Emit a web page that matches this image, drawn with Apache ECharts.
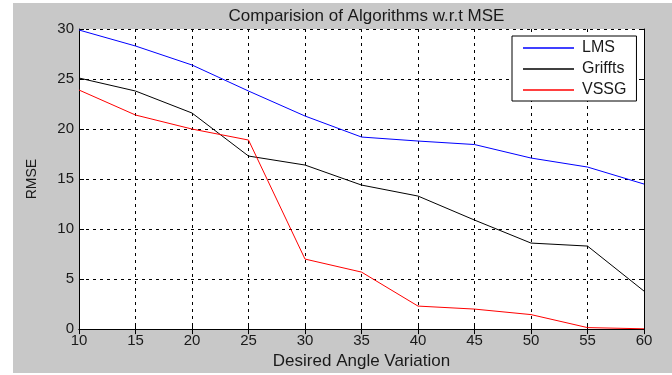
<!DOCTYPE html>
<html>
<head>
<meta charset="utf-8">
<script src="https://cdn.jsdelivr.net/npm/echarts@6/dist/echarts.min.js"></script>
<style>
  html, body { margin: 0; padding: 0; background: #ffffff; }
  #frame { position: absolute; left: 13px; top: 3px; width: 659px; height: 370px; background: #c8c8c8; }
  #chart { position: absolute; left: 0; top: 0; width: 672px; height: 375px; }
</style>
</head>
<body>
<div id="frame"></div>
<div id="chart"></div>
<script>
// Desired angle variation (x) and error values per algorithm
const angles  = [10, 15, 20, 25, 30, 35, 40, 45, 50, 55, 60];
const lms     = [29.9, 28.3, 26.4, 23.8, 21.3, 19.2, 18.8, 18.45, 17.1, 16.2, 14.5];
const griffts = [25.1, 23.8, 21.6, 17.3, 16.4, 14.4, 13.3, 10.9, 8.6, 8.3, 3.8];
const vssg    = [23.9, 21.4, 20.0, 18.9, 7.0, 5.7, 2.3, 2.0, 1.45, 0.15, 0.03];

const seriesNames  = ['LMS', 'Griffts', 'VSSG'];
const seriesValues = [lms, griffts, vssg];
const seriesColors = ['#0000ff', '#000000', '#ff0000'];

const FONT = '"Liberation Sans", Arial, sans-serif';
const TXT = '#1a1a1a';

const chart = echarts.init(document.getElementById('chart'), null, { renderer: 'canvas' });

const gridDash = { show: true, lineStyle: { color: '#000', width: 1, type: [3, 4] } };

chart.setOption({
  backgroundColor: 'transparent',
  animation: false,
  title: {
    text: 'Comparision of Algorithms w.r.t MSE',
    left: 361.5, textAlign: 'center', top: 3,
    textStyle: { fontFamily: FONT, fontSize: 17, fontWeight: 'normal', color: TXT }
  },
  grid: { left: 79, right: 28, top: 29, bottom: 41, backgroundColor: '#ffffff', show: true, borderWidth: 0 },
  legend: {
    orient: 'vertical',
    left: 512, top: 36,
    backgroundColor: '#ffffff',
    borderColor: '#000', borderWidth: 1,
    padding: [4, 10, 3, 11],
    itemGap: 5,
    itemWidth: 51, itemHeight: 1.5,
    icon: 'rect',
    data: seriesNames,
    textStyle: { fontFamily: FONT, fontSize: 16, color: TXT, lineHeight: 16, padding: [0, 0, 0, 3] }
  },
  xAxis: [
    {
      type: 'value', min: 10, max: 60, interval: 5,
      name: 'Desired Angle Variation', nameLocation: 'middle', nameGap: 21,
      nameTextStyle: { fontFamily: FONT, fontSize: 17, color: TXT },
      axisLine: { show: true, lineStyle: { color: '#000', width: 1 } },
      axisTick: { show: true, inside: true, length: 5, lineStyle: { color: '#000' } },
      axisLabel: { fontFamily: FONT, fontSize: 15, color: TXT, margin: 4 },
      splitLine: gridDash
    },
    {
      type: 'value', min: 10, max: 60, interval: 5, position: 'top',
      axisLine: { show: true, lineStyle: { color: '#000', width: 1 } },
      axisTick: { show: true, inside: true, length: 5, lineStyle: { color: '#000' } },
      axisLabel: { show: false }, splitLine: { show: false }
    }
  ],
  yAxis: [
    {
      type: 'value', min: 0, max: 30, interval: 5,
      name: 'RMSE', nameLocation: 'middle', nameGap: 40, nameRotate: 90,
      nameTextStyle: { fontFamily: FONT, fontSize: 14, color: TXT },
      axisLine: { show: true, lineStyle: { color: '#000', width: 1 } },
      axisTick: { show: true, inside: true, length: 5, lineStyle: { color: '#000' } },
      axisLabel: { fontFamily: FONT, fontSize: 15, color: TXT, margin: 5, verticalAlign: 'middle' },
      splitLine: gridDash
    },
    {
      type: 'value', min: 0, max: 30, interval: 5, position: 'right',
      axisLine: { show: true, lineStyle: { color: '#000', width: 1 } },
      axisTick: { show: true, inside: true, length: 5, lineStyle: { color: '#000' } },
      axisLabel: { show: false }, splitLine: { show: false }
    }
  ],
  series: seriesNames.map((name, i) => ({
    name: name,
    type: 'line',
    xAxisIndex: 0, yAxisIndex: 0,
    data: angles.map((a, j) => [a, seriesValues[i][j]]),
    showSymbol: false,
    symbol: 'none',
    color: seriesColors[i],
    lineStyle: { color: seriesColors[i], width: 1 },
    itemStyle: { color: seriesColors[i] },
    z: 3
  }))
});
</script>
</body>
</html>
